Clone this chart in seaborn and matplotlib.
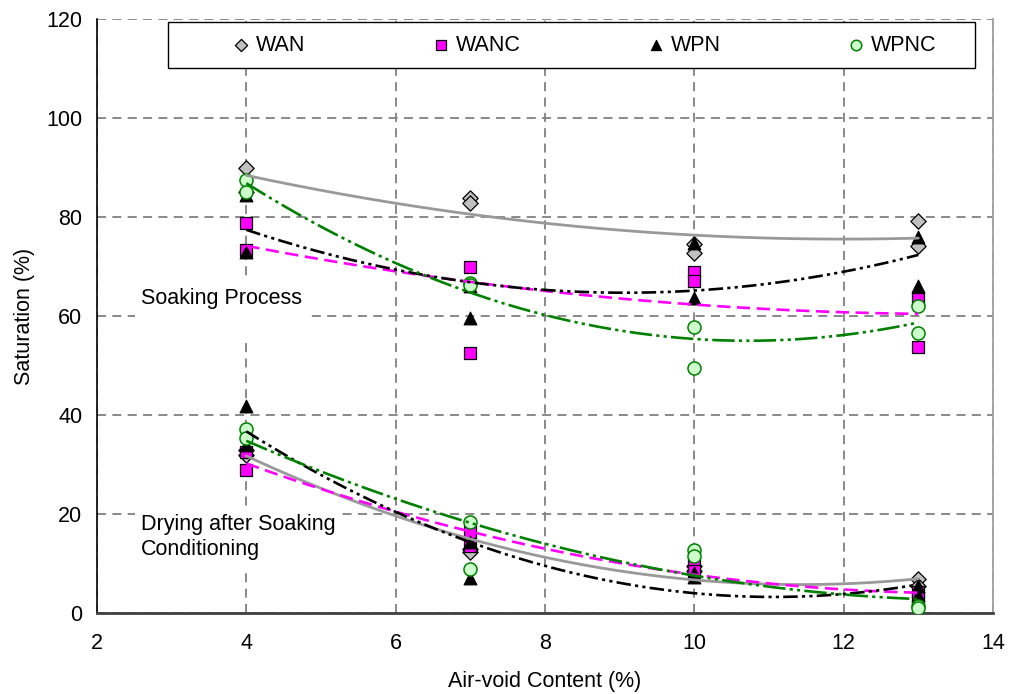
import numpy as np
import pandas as pd
import matplotlib
matplotlib.use("Agg")
import matplotlib.pyplot as plt
import seaborn as sns
from matplotlib.patches import Rectangle

# ---------------- data ----------------
air_void = [4, 4, 7, 7, 10, 10, 13, 13]
series_names = ["WAN", "WANC", "WPN", "WPNC"]

# Soaking process saturation (%)
soak_wan = [90.0, 85.0, 83.8, 82.8, 74.5, 72.7, 79.2, 74.1]
soak_wanc = [78.8, 73.3, 70.0, 52.5, 68.9, 67.0, 63.4, 53.7]
soak_wpn = [84.5, 73.0, 66.0, 59.6, 74.7, 63.6, 76.0, 66.0]
soak_wpnc = [87.5, 85.0, 66.7, 66.2, 57.8, 49.5, 62.0, 56.5]

# Drying after soaking conditioning saturation (%)
dry_wan = [33.0, 32.0, 13.0, 12.3, 9.5, 8.5, 6.8, 5.5]
dry_wanc = [32.5, 28.9, 16.4, 13.5, 10.0, 8.5, 4.2, 3.0]
dry_wpn = [41.8, 34.0, 14.3, 7.0, 8.0, 7.3, 5.5, 3.6]
dry_wpnc = [37.2, 35.4, 18.4, 8.9, 12.7, 11.5, 1.5, 1.1]

x_ticks = [2, 4, 6, 8, 10, 12, 14]
y_ticks = [0, 20, 40, 60, 80, 100, 120]

soak = {"WAN": soak_wan, "WANC": soak_wanc, "WPN": soak_wpn, "WPNC": soak_wpnc}
dry = {"WAN": dry_wan, "WANC": dry_wanc, "WPN": dry_wpn, "WPNC": dry_wpnc}

rows = []
for name in series_names:
    for grp, d in (("soak", soak), ("dry", dry)):
        for xv, yv in zip(air_void, d[name]):
            rows.append({"series": name, "group": grp, "x": xv, "y": yv})
df = pd.DataFrame(rows)

# ---------------- styles ----------------
mstyle = {
    "WAN": dict(marker="D", s=7.8 ** 2, color="#c0c0c0", edgecolor="black", linewidth=0.9),
    "WANC": dict(marker="s", s=8.6 ** 2, color="#ff00ff", edgecolor="black", linewidth=0.9),
    "WPN": dict(marker="^", s=9.2 ** 2, color="black", edgecolor="black", linewidth=0.8),
    "WPNC": dict(marker="o", s=9.4 ** 2, color="#ccffcc", edgecolor="#008000", linewidth=1.1),
}
lstyle = {
    "WAN": dict(color="#999999", linestyle="-", lw=2.0),
    "WANC": dict(color="#ff00ff", linestyle=(0, (5.0, 2.5)), lw=1.9),
    "WPN": dict(color="black", linestyle=(0, (5.5, 1.6, 1.2, 1.6, 1.2, 1.6)), lw=1.9),
    "WPNC": dict(color="#008000", linestyle=(0, (8.5, 1.6, 1.2, 1.6, 1.2, 1.6)), lw=1.9),
}

sns.set_style("white")
plt.rcParams["font.family"] = ["Liberation Sans", "DejaVu Sans"]
plt.rcParams["font.size"] = 15.5
plt.rcParams["text.color"] = "black"
plt.rcParams["axes.labelcolor"] = "black"

fig = plt.figure(figsize=(10.14, 6.94), dpi=100)
ax = fig.add_axes([97 / 1014, 1 - 613 / 694, 896 / 1014, 594 / 694])

# scatter points
for name in series_names:
    sub = df[df["series"] == name]
    sns.scatterplot(data=sub, x="x", y="y", ax=ax, label=name, zorder=3,
                    legend=False, **mstyle[name])

# 2nd-order polynomial trend lines (Excel-style), computed from the data
xs = np.linspace(4, 13, 200)
for name in series_names:
    for grp in ("soak", "dry"):
        sub = df[(df["series"] == name) & (df["group"] == grp)]
        coef = np.polyfit(sub["x"], sub["y"], 2)
        sns.lineplot(x=xs, y=np.polyval(coef, xs), ax=ax, zorder=4,
                     legend=False, **lstyle[name])

# axes formatting
ax.set_xlim(2, 14)
ax.set_ylim(0, 120)
ax.set_xticks(x_ticks)
ax.set_yticks(y_ticks)
ax.grid(True, color="#808080", linestyle=(0, (5, 3.5)), linewidth=1.3, zorder=0)
ax.set_axisbelow(True)
ax.tick_params(axis="both", direction="out", length=4.5, width=1.0, colors="black",
               labelsize=15.5)
ax.tick_params(axis="x", pad=10, color="#404040")
ax.tick_params(axis="y", pad=6)
ax.spines["top"].set_visible(False)
ax.spines["right"].set_color("#a0a0a0")
ax.spines["right"].set_linewidth(1.3)
ax.spines["left"].set_color("black")
ax.spines["left"].set_linewidth(1.2)
ax.spines["bottom"].set_color("#404040")
ax.spines["bottom"].set_linewidth(2.0)
ax.set_xlabel("Air-void Content (%)", fontsize=15.5, labelpad=12)
ax.set_ylabel("Saturation (%)", fontsize=15.5, labelpad=8)

# annotations
ax.text(2.59, 65.7, "Soaking Process\n ", fontsize=15.5, va="top", ha="left",
        zorder=2, bbox=dict(boxstyle="square,pad=0.3", fc="white", ec="none"))
ax.text(2.59, 15.3, "Drying after Soaking\nConditioning", fontsize=15.5, va="center",
        ha="left", zorder=2, linespacing=1.25,
        bbox=dict(boxstyle="square,pad=0.3", fc="white", ec="none"))

# legend box
ax.add_patch(Rectangle((0.079, 0.9175), 0.901, 0.0775, transform=ax.transAxes,
                       fc="white", ec="black", lw=1.0, zorder=5, clip_on=False))
handles, labels = ax.get_legend_handles_labels()
leg = ax.legend(handles[:4], labels[:4], loc="center", bbox_to_anchor=(0.544, 0.956),
                ncol=4, frameon=False, fontsize=15.5, markerscale=0.8, scatterpoints=1,
                handlelength=0.8, handletextpad=0.3, columnspacing=5.87,
                borderaxespad=0, borderpad=0)
leg.set_zorder(6)

fig.savefig("out.png", dpi=100)
